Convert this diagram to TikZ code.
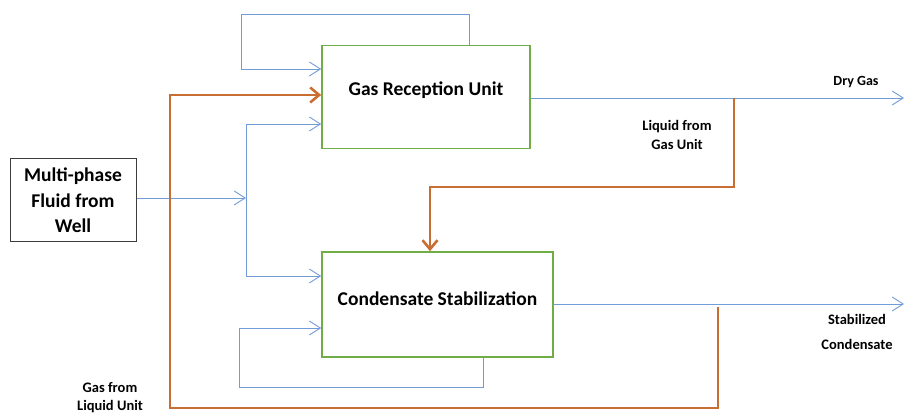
\documentclass[tikz,border=0pt]{standalone}
\usepackage{fontspec}
\setmainfont{Carlito}
\usepackage{tikz}
\usetikzlibrary{arrows.meta, positioning, calc}
\definecolor{myblue}{RGB}{114,156,216}
\definecolor{myorange}{RGB}{200,110,50}
\definecolor{mygreen}{RGB}{112,173,71}
\definecolor{mygray}{RGB}{60,60,60}
\tikzset{
  flow/.style={draw=myblue, line width=0.9pt},
  flowarrow/.style={draw=myblue, line width=0.9pt, -{Straight Barb[length=11pt,width=14pt]}},
  recycle/.style={draw=myorange, line width=2.6pt},
  recyclearrow/.style={draw=myorange, line width=2.6pt, -{Straight Barb[length=9pt,width=15pt]}},
  unit/.style={draw=mygreen, line width=1.6pt, rectangle},
  unitname/.style={font=\fontsize{19.5}{22}\selectfont\bfseries},
  source/.style={draw=mygray, line width=1pt, rectangle, align=center, font=\fontsize{19.5}{25.5}\selectfont\bfseries},
  tag/.style={align=center, font=\fontsize{14.5}{19}\selectfont\bfseries}
}
\begin{document}
\begin{tikzpicture}[x=1pt, y=1pt]
  \useasboundingbox (0,0) rectangle (904,414);
  \node [unit, minimum width=208pt, minimum height=103pt,
         label={[unitname, yshift=7pt]center:Gas Reception Unit}] (gru) at (426,317) {};
  \node [unit, minimum width=231pt, minimum height=105pt,
         label={[unitname, yshift=6pt]center:Condensate Stabilization}] (cs) at (437.5,109.5) {};
  \node [source, minimum width=126pt, minimum height=83pt] (well) at (73,213.5) {Multi-phase\\Fluid from\\Well};

  \node [tag, font=\fontsize{14}{19}\selectfont\bfseries] (drygas) at (856,332) {Dry Gas};
  \node [tag] (liqgas) at (677,279) {Liquid from\\Gas Unit};
  \node [tag, font=\fontsize{14.5}{25}\selectfont\bfseries] (stabcond) at (857,82) {Stabilized\\Condensate};
  \node [tag, font=\fontsize{14.5}{18}\selectfont\bfseries] (gasliq) at (110,16.5) {Gas from\\Liquid Unit};

  \coordinate (split) at (246,216);
  \coordinate (gasout) at (904,316);
  \coordinate (condout) at (904,110);
  \coordinate (gastap) at (734,316);
  \coordinate (condtap) at (718,110);

  % feed
  \draw [flowarrow] (well.east |- split) -- (split);
  \draw [flowarrow] (split) |- ([yshift=-27pt]gru.west);
  \draw [flowarrow] (split) |- ([yshift=28.5pt]cs.west);

  % recycles
  \draw [flowarrow] ([xshift=43pt]gru.north) |- (241,400) |- ([yshift=28pt]gru.west);
  \draw [flowarrow] ([xshift=45.5pt]cs.south) |- (239,27) |- ([yshift=-23.5pt]cs.west);

  % products
  \draw [flowarrow] (gru.east |- gasout) -- (gasout);
  \draw [flowarrow] (cs.east |- condout) -- (condout);

  \draw [recyclearrow] (gastap) |- (430,227) -- (cs.north -| 430,0);
  \draw [recyclearrow] ([yshift=-3pt]condtap) |- (170,6) |- ([yshift=2pt]gru.west);
\end{tikzpicture}
\end{document}
